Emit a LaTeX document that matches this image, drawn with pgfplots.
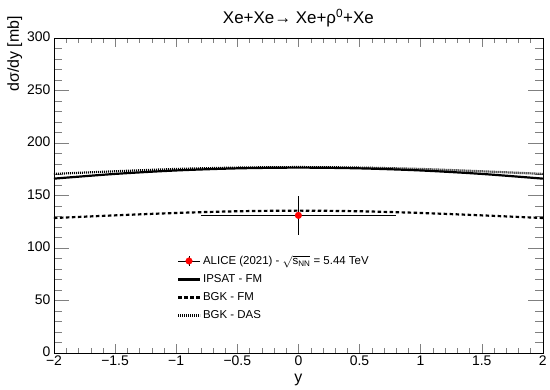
\documentclass[border=0pt]{standalone}
\usepackage{amsmath}
\usepackage{pgfplots}
\pgfplotsset{compat=1.18}
\usepackage{fontspec}
\setmainfont{Liberation Sans}

\begin{document}
\begin{tikzpicture}
\begin{axis}[
  scale only axis,
  width=489bp, height=315bp,
  xmin=-2, xmax=2, ymin=0, ymax=300,
  xtick={-2,-1.5,...,2},
  xticklabels={−2,−1.5,−1,−0.5,0,0.5,1,1.5,2},
  ytick={0,50,...,300},
  minor x tick num=4,
  minor y tick num=4,
  tick align=inside,
  tick pos=both,
  xtick style={/pgfplots/major tick length=9bp,/pgfplots/minor tick length=5bp},
  ytick style={/pgfplots/major tick length=15bp,/pgfplots/minor tick length=8bp},
  tick label style={font=\fontsize{14}{16}\selectfont},
  xticklabel style={yshift=0.5bp},
  yticklabel style={yshift=1bp},
  /pgf/number format/assume math mode=true,
  xlabel={y},
  ylabel={dσ/dy [mb]},
  xlabel style={font=\fontsize{16}{18}\selectfont, yshift=-1bp},
  ylabel style={font=\fontsize{16}{18}\selectfont, at={(axis description cs:-0.058,1.08)}, anchor=south east},
  title={Xe+Xe→ Xe+ρ\textsuperscript{0}+Xe},
  title style={font=\fontsize{17}{19}\selectfont, yshift=1bp},
  legend style={draw=none, fill=none, at={(axis description cs:0.245,0.322)}, anchor=north west,
    font=\fontsize{11.5}{13}\selectfont, row sep=4.5bp},
  legend cell align=left,
  clip=false,
]
\addplot[only marks, mark=*, mark size=3.3bp, mark options={fill=red, draw=red},
  error bars/.cd, x dir=both, y dir=both, x explicit, y explicit,
  error mark=none, error bar style={black, line width=0.8bp},
  /pgfplots/legend image code/.code={
    \draw[black, line width=0.8bp] (0bp,0bp) -- (22bp,0bp);
    \draw[black, line width=0.8bp] (11bp,-5bp) -- (11bp,5bp);
    \fill[red] (11bp,0bp) circle (3.3bp);}]
  coordinates {(0,131) +- (0.8,18.5)};
\addlegendentry{ALICE (2021) - $\sqrt{\text{s}_{\text{NN}}}$ = 5.44 TeV}
\addplot[black, line width=2.2bp, smooth,
  legend image code/.code={\draw[black, line width=2.2bp] (0bp,0bp) -- (22bp,0bp);}] coordinates {
  (-2,166) (-1.5,170.5) (-1,173.8) (-0.5,175.8) (0,176.5) (0.5,175.8) (1,173.8) (1.5,170.5) (2,166)};
\addlegendentry{IPSAT - FM}
\addplot[black, line width=2.2bp, smooth, dash pattern=on 3.5bp off 2.5bp,
  legend image code/.code={\draw[black, line width=2.2bp, dash pattern=on 3.5bp off 2.5bp] (0bp,0bp) -- (22bp,0bp);}] coordinates {
  (-2,128.5) (-1.5,131) (-1,133.3) (-0.5,134.9) (0,135.5) (0.5,134.9) (1,133.3) (1.5,131) (2,128.5)};
\addlegendentry{BGK - FM}
\addplot[black, line width=2.2bp, smooth, dash pattern=on 1bp off 1bp,
  legend image code/.code={\draw[black, line width=2.2bp, dash pattern=on 1bp off 1bp] (0bp,0bp) -- (22bp,0bp);}] coordinates {
  (-2,170.5) (-1.5,173) (-1,175.2) (-0.5,176.5) (0,177) (0.5,176.5) (1,175.2) (1.5,173) (2,170.5)};
\addlegendentry{BGK - DAS}
\path (axis description cs:-0.1104,-0.1175) rectangle (axis description cs:1.0143,1.1206);
\end{axis}
\end{tikzpicture}
\end{document}
